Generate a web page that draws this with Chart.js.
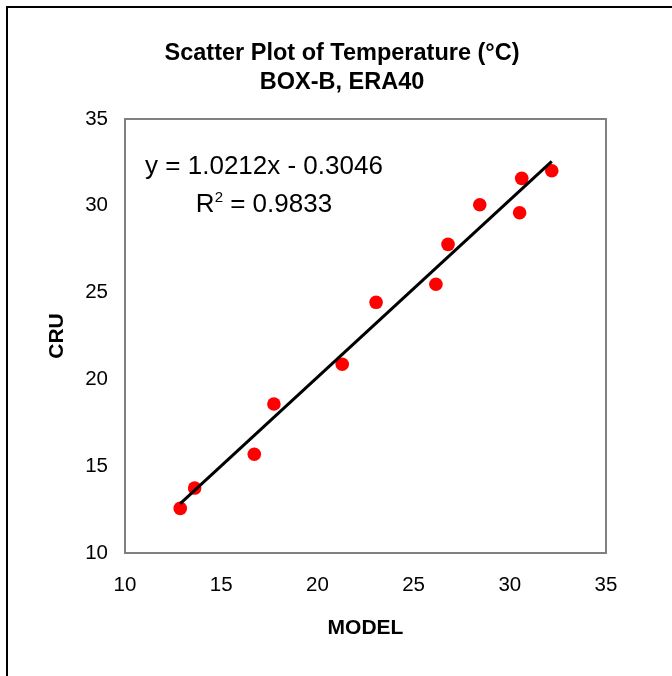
<!DOCTYPE html>
<html>
<head>
<meta charset="utf-8">
<script src="https://cdn.jsdelivr.net/npm/chart.js@4/dist/chart.umd.min.js"></script>
<style>
    html, body { margin: 0; padding: 0; background: #fff; }
    #wrap { width: 672px; height: 676px; position: relative; }
</style>
</head>
<body>
<div id="wrap"><canvas id="scatterChart" width="672" height="676"></canvas></div>
<script>
// model vs observed temperature pairs
const modelTemps = [12.87, 13.62, 16.72, 17.74, 21.29, 23.05, 26.16, 26.79, 28.44, 30.51, 30.62, 32.18];
const cruTemps = [12.57, 13.74, 15.69, 18.58, 20.87, 24.44, 25.48, 27.78, 30.06, 29.60, 31.58, 32.02];

// linear fit as printed on the chart
const slope = 1.0212;
const intercept = -0.3046;
const rSquared = 0.9833;

const axisTicks = [10, 15, 20, 25, 30, 35];
const titleLines = ['Scatter Plot of Temperature (°C)', 'BOX-B, ERA40'];

const FONT = "'Liberation Sans', Arial, Helvetica, sans-serif";
Chart.defaults.font.family = FONT;
Chart.defaults.color = '#000';

const points = modelTemps.map((x, i) => ({ x: x, y: cruTemps[i] }));
const xMin = Math.min(...modelTemps);
const xMax = Math.max(...modelTemps);
const fitLine = [xMin, xMax].map(x => ({ x: x, y: slope * x + intercept }));

// outer frame, plot box, title and the fit equation
const decorations = {
    id: 'decorations',
    beforeDraw(chart) {
        const ctx = chart.ctx;
        ctx.save();
        ctx.fillStyle = '#fff';
        ctx.fillRect(0, 0, chart.width, chart.height);
        ctx.strokeStyle = '#000';
        ctx.lineWidth = 2;
        ctx.beginPath();
        ctx.moveTo(7, chart.height);
        ctx.lineTo(7, 7);
        ctx.lineTo(chart.width, 7);
        ctx.stroke();
        ctx.restore();
    },
    afterDatasetsDraw(chart) {
        const ctx = chart.ctx;
        const area = chart.chartArea;
        ctx.save();
        ctx.strokeStyle = '#808080';
        ctx.lineWidth = 2;
        ctx.strokeRect(area.left, area.top, area.right - area.left, area.bottom - area.top);

        // title
        ctx.fillStyle = '#000';
        ctx.textAlign = 'center';
        ctx.textBaseline = 'alphabetic';
        ctx.font = 'bold 23.5px ' + FONT;
        ctx.fillText(titleLines[0], 342, 60);
        ctx.fillText(titleLines[1], 342, 89);

        // equation and R squared
        const cx = area.left + 139;
        ctx.font = '26px ' + FONT;
        const eq = 'y = ' + slope.toFixed(4) + 'x - ' + Math.abs(intercept).toFixed(4);
        ctx.fillText(eq, cx, area.top + 55);

        const rPart = 'R';
        const rest = ' = ' + rSquared.toFixed(4);
        const wR = ctx.measureText(rPart).width;
        const wRest = ctx.measureText(rest).width;
        ctx.font = '15px ' + FONT;
        const wSup = ctx.measureText('2').width;
        let x = cx - (wR + wSup + wRest) / 2;
        const base = area.top + 93;
        ctx.textAlign = 'left';
        ctx.font = '26px ' + FONT;
        ctx.fillText(rPart, x, base);
        x += wR;
        ctx.font = '15px ' + FONT;
        ctx.fillText('2', x, base - 10);
        x += wSup;
        ctx.font = '26px ' + FONT;
        ctx.fillText(rest, x, base);
        ctx.restore();
    }
};

new Chart(document.getElementById('scatterChart'), {
    type: 'scatter',
    data: {
        datasets: [{
            label: 'Linear fit',
            data: fitLine,
            showLine: true,
            borderColor: '#000',
            borderWidth: 3,
            pointRadius: 0,
            fill: false,
            order: 0
        }, {
            label: 'CRU',
            data: points,
            backgroundColor: '#ff0000',
            borderWidth: 0,
            pointRadius: 6.8,
            order: 1
        }]
    },
    options: {
        responsive: false,
        animation: false,
        layout: {
            padding: { left: 0, right: 66, top: 119, bottom: 35 }
        },
        plugins: {
            legend: { display: false },
            tooltip: { enabled: false },
            title: { display: false }
        },
        scales: {
            x: {
                type: 'linear',
                min: 10,
                max: 35,
                afterBuildTicks: scale => { scale.ticks = axisTicks.map(v => ({ value: v })); },
                afterFit: scale => { scale.height = 88; },
                grid: { display: false, drawTicks: false },
                border: { display: false },
                ticks: { padding: 20, font: { size: 20.5 }, color: '#000' },
                title: {
                    display: true,
                    text: 'MODEL',
                    font: { size: 21, weight: 'bold' },
                    padding: { top: 0, bottom: 0 },
                    color: '#000'
                }
            },
            y: {
                type: 'linear',
                min: 10,
                max: 35,
                afterBuildTicks: scale => { scale.ticks = axisTicks.map(v => ({ value: v })); },
                afterFit: scale => { scale.width = 125; },
                grid: { display: false, drawTicks: false },
                border: { display: false },
                ticks: { padding: 17, font: { size: 20.5 }, color: '#000' },
                title: {
                    display: true,
                    text: 'CRU',
                    font: { size: 21, weight: 'bold' },
                    padding: { top: 45, bottom: 0 },
                    color: '#000'
                }
            }
        }
    },
    plugins: [decorations]
});
</script>
</body>
</html>
